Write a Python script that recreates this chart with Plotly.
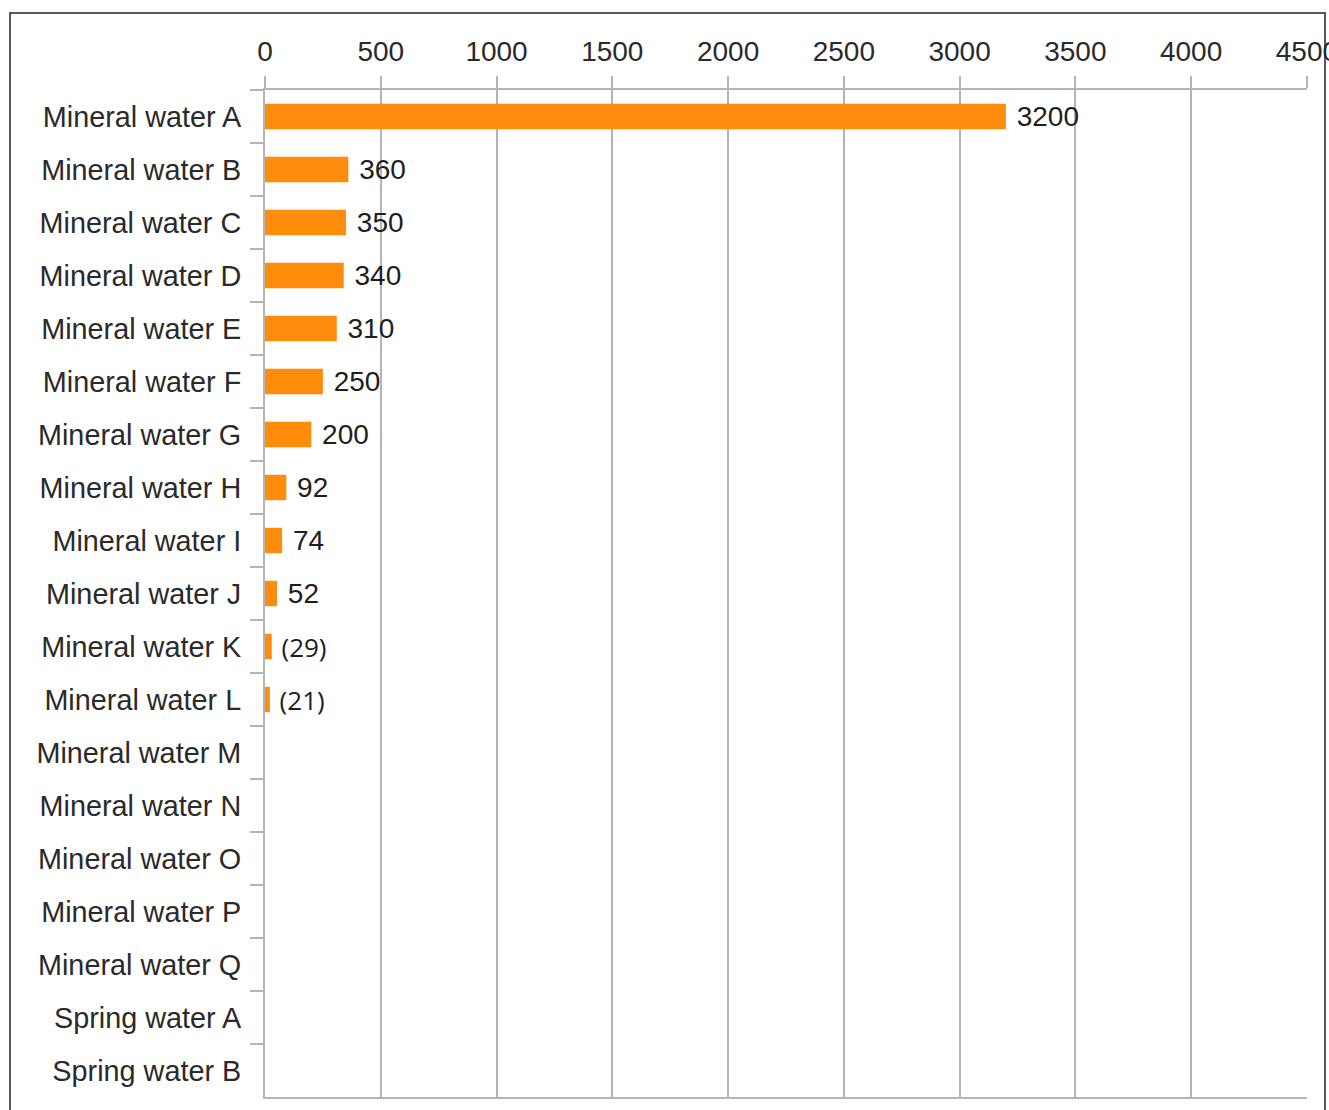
import plotly.graph_objects as go

# Product categories, top to bottom
products = [
    "Mineral water A", "Mineral water B", "Mineral water C", "Mineral water D",
    "Mineral water E", "Mineral water F", "Mineral water G", "Mineral water H",
    "Mineral water I", "Mineral water J", "Mineral water K", "Mineral water L",
    "Mineral water M", "Mineral water N", "Mineral water O", "Mineral water P",
    "Mineral water Q", "Spring water A", "Spring water B",
]
# Measured values (None = no value reported)
values = [3200, 360, 350, 340, 310, 250, 200, 92, 74, 52, 29, 21,
          None, None, None, None, None, None, None]
# Values shown in brackets
bracketed = [False] * 10 + [True, True] + [False] * 7

x_ticks = [0, 500, 1000, 1500, 2000, 2500, 3000, 3500, 4000, 4500]

labels = []
label_fonts = []
for v, b in zip(values, bracketed):
    if v is None:
        labels.append("")
        label_fonts.append("Liberation Sans")
    elif b:
        labels.append(f"\u00a0({v})")
        label_fonts.append("Open Sans")
    else:
        labels.append(f"\u00a0{v}")
        label_fonts.append("Liberation Sans")

W, H = 1329, 1110
L, R, T, B = 265, 22, 90, 13
pw, ph = W - L - R, H - T - B


def px_x(p):
    return (p - L) / pw


def px_y(p):
    return (H - B - p) / ph


FS = 28

fig = go.Figure(
    go.Bar(
        x=values,
        y=products,
        orientation="h",
        marker=dict(color="#ff8c0a", line=dict(width=0)),
        width=0.48,
        text=labels,
        textposition="outside",
        constraintext="none",
        textfont=dict(size=[FS if f == "Liberation Sans" else 26 for f in label_fonts],
                      color="#1e1e1e", family=label_fonts),
        cliponaxis=False,
        hoverinfo="x+y",
    )
)

fig.update_layout(
    width=W,
    height=H,
    autosize=False,
    margin=dict(l=L, r=R, t=T, b=B, autoexpand=False),
    paper_bgcolor="white",
    plot_bgcolor="white",
    showlegend=False,
    font=dict(family="Liberation Sans, Arial, sans-serif", size=FS, color="#2a2a2a"),
    shapes=[
        # outer frame
        dict(type="rect", xref="paper", yref="paper",
             x0=px_x(10), x1=px_x(1325), y0=px_y(1125), y1=px_y(13),
             line=dict(color="#222222", width=1.5), fillcolor="rgba(0,0,0,0)",
             layer="below"),
    ],
)

fig.update_xaxes(
    side="top",
    range=[0, 4500.5],
    tickvals=x_ticks,
    ticklabeloverflow="allow",
    automargin=False,
    showgrid=True,
    gridcolor="#b4b4b4",
    gridwidth=2,
    ticks="outside",
    ticklen=12,
    tickwidth=2,
    tickcolor="#b4b4b4",
    ticklabelstandoff=4,
    showline=True,
    linecolor="#b4b4b4",
    linewidth=2,
    mirror=True,
    zeroline=False,
    tickfont=dict(size=FS, color="#2a2a2a"),
)

fig.update_yaxes(
    type="category",
    autorange="reversed",
    automargin=False,
    showgrid=False,
    ticks="outside",
    tickson="boundaries",
    ticklen=13,
    tickwidth=2,
    tickcolor="#b4b4b4",
    ticklabelstandoff=16,
    showline=True,
    linecolor="#b4b4b4",
    linewidth=2,
    tickfont=dict(size=28.8, color="#2a2a2a"),
)

# keep the page from growing past the figure's own width
fig.write_html(
    "out.html",
    post_script="document.body.style.overflow='hidden';"
                "document.body.style.margin='0';",
)
